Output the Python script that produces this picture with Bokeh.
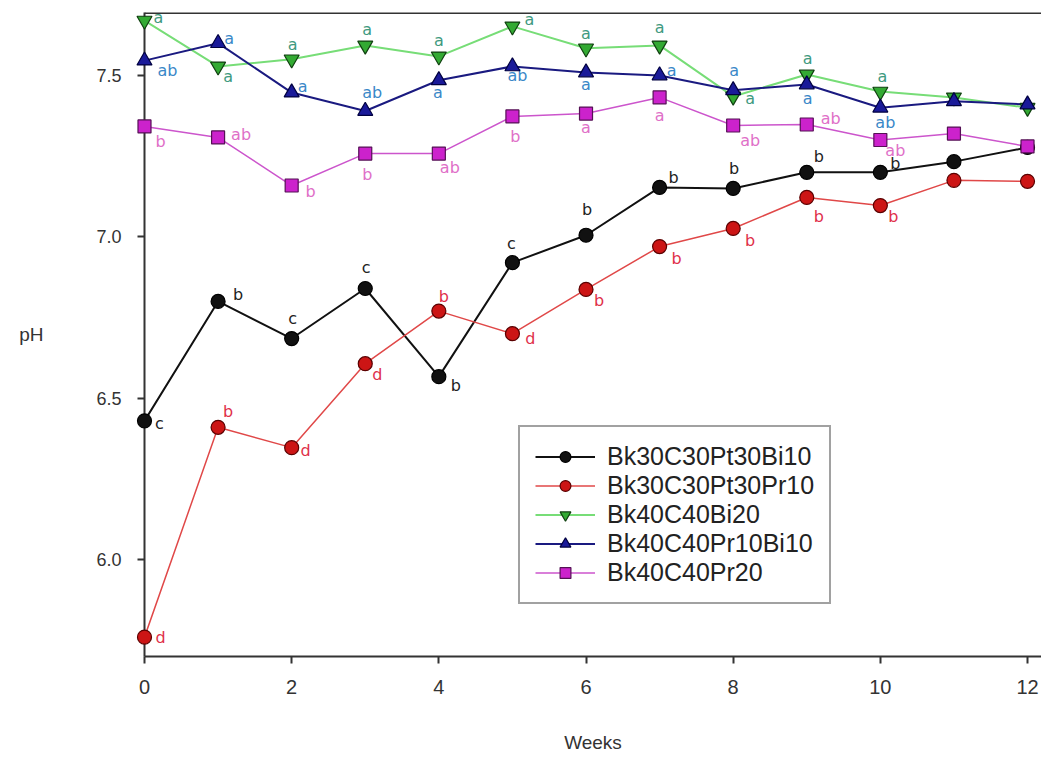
from bokeh.plotting import figure
from bokeh.models import ColumnDataSource, FixedTicker, Span, PrintfTickFormatter
from bokeh.core.properties import value
from bokeh.embed import file_html
from bokeh.resources import INLINE

# ---------------- data ----------------
weeks = list(range(13))
series_names = ["Bk30C30Pt30Bi10", "Bk30C30Pt30Pr10", "Bk40C40Bi20",
                "Bk40C40Pr10Bi10", "Bk40C40Pr20"]

ph_bk30_bi10 = [6.43, 6.80, 6.685, 6.84, 6.567, 6.92, 7.005, 7.153, 7.15, 7.20, 7.20, 7.233, 7.277]
ph_bk30_pr10 = [5.76, 6.41, 6.347, 6.607, 6.77, 6.70, 6.837, 6.97, 7.026, 7.122, 7.097, 7.175, 7.172]
ph_bk40_bi20 = [7.67, 7.528, 7.55, 7.593, 7.559, 7.652, 7.584, 7.593, 7.435, 7.503, 7.45, 7.432, 7.40]
ph_bk40_pr10bi10 = [7.546, 7.60, 7.447, 7.39, 7.485, 7.528, 7.509, 7.50, 7.454, 7.472, 7.40, 7.42, 7.41]
ph_bk40_pr20 = [7.342, 7.308, 7.159, 7.258, 7.258, 7.373, 7.382, 7.432, 7.345, 7.348, 7.30, 7.32, 7.28]

let_bk30_bi10 = ["c", "b", "c", "c", "b", "c", "b", "b", "b", "b", "b", "", ""]
let_bk30_pr10 = ["d", "b", "d", "d", "b", "d", "b", "b", "b", "b", "b", "", ""]
let_bk40_bi20 = ["a", "a", "a", "a", "a", "a", "a", "a", "a", "a", "a", "", ""]
let_bk40_pr10bi10 = ["ab", "a", "a", "ab", "a", "ab", "a", "a", "a", "a", "ab", "", ""]
let_bk40_pr20 = ["b", "ab", "b", "b", "ab", "b", "a", "a", "ab", "ab", "ab", "", ""]

x_ticks = [0, 2, 4, 6, 8, 10, 12]
y_ticks = [6.0, 6.5, 7.0, 7.5]

# ---------------- label placement (screen px, relative to marker) ----------------
off_bk30_bi10 = [(15, 3), (20, -7), (1, -20), (1, -21), (17, 9), (-1, -19), (1, -26),
                 (14, -10), (1, -20), (12, -16), (15, -9), (0, 0), (0, 0)]
off_bk30_pr10 = [(16, 0), (10, -16), (14, 3), (12, 11), (5, -15), (18, 5), (13, 11),
                 (17, 12), (17, 12), (12, 19), (13, 11), (0, 0), (0, 0)]
off_bk40_bi20 = [(14, -3), (10, 10), (1, -15), (2, -16), (0, -16), (17, -7), (0, -15),
                 (0, -18), (17, 2), (1, -16), (2, -15), (0, 0), (0, 0)]
off_bk40_pr10bi10 = [(23, 10), (11, -5), (11, -6), (7, -18), (-1, 12), (5, 9), (0, 12),
                     (12, -5), (1, -20), (1, 14), (5, 15), (0, 0), (0, 0)]
off_bk40_pr20 = [(16, 15), (23, -3), (19, 6), (2, 21), (11, 14), (3, 20), (0, 14),
                 (0, 18), (17, 15), (24, -6), (15, 10), (0, 0), (0, 0)]

styles = [
    dict(line="#111111", lw=2, marker="circle", fill="#111111", edge="#000000", size=14, txt="#222222"),
    dict(line="#e04848", lw=1.5, marker="circle", fill="#cc1515", edge="#5a0000", size=14, txt="#e0304a"),
    dict(line="#77dd77", lw=2, marker="inverted_triangle", fill="#33aa33", edge="#104010", size=15, txt="#3f9a80"),
    dict(line="#1a1a80", lw=2, marker="triangle", fill="#1a1a99", edge="#000040", size=15, txt="#3a88c8"),
    dict(line="#cc55cc", lw=1.5, marker="square", fill="#cc22cc", edge="#551155", size=13, txt="#e070c8"),
]

values = [ph_bk30_bi10, ph_bk30_pr10, ph_bk40_bi20, ph_bk40_pr10bi10, ph_bk40_pr20]
letters = [let_bk30_bi10, let_bk30_pr10, let_bk40_bi20, let_bk40_pr10bi10, let_bk40_pr20]
offsets = [off_bk30_bi10, off_bk30_pr10, off_bk40_bi20, off_bk40_pr10bi10, off_bk40_pr20]

# ---------------- figure ----------------
Y0, Y1 = 5.70, 7.695
p = figure(width=1041, height=759, x_range=(0, 12.19), y_range=(Y0, Y1),
           output_backend="svg", toolbar_location=None,
           min_border_left=144, min_border_top=12, min_border_right=0, min_border_bottom=103)
p.grid.visible = False
p.outline_line_color = None
p.background_fill_color = "white"
p.border_fill_color = "white"

tick_font = "Liberation Sans"
for ax in (p.xaxis[0], p.yaxis[0]):
    ax.axis_line_width = 2
    ax.axis_line_color = "#333333"
    ax.major_tick_line_color = "#333333"
    ax.major_tick_line_width = 2
    ax.major_tick_in = 0
    ax.major_tick_out = 7
    ax.minor_tick_line_color = None
    ax.major_label_text_font = tick_font
    ax.major_label_text_color = "#333333"
    ax.axis_label_text_font = tick_font
    ax.axis_label_text_font_size = "19px"
    ax.axis_label_text_font_style = "normal"
    ax.axis_label_text_color = "#333333"

p.xaxis.major_label_text_font_size = "20px"
p.yaxis.major_label_text_font_size = "18px"
p.xaxis.ticker = FixedTicker(ticks=x_ticks)
p.yaxis.ticker = FixedTicker(ticks=y_ticks)
p.yaxis.formatter = PrintfTickFormatter(format="%.1f")
p.xaxis.major_label_standoff = 16
p.yaxis.major_label_standoff = 16
p.xaxis.axis_label = "Weeks"
p.xaxis.axis_label_standoff = 35
p.yaxis.axis_label = "pH"
p.yaxis.axis_label_orientation = "horizontal"
p.yaxis.axis_label_standoff = 50

p.add_layout(Span(location=Y1, dimension="width", line_color="#333333", line_width=3))

for name, vals, labs, offs, st in zip(series_names, values, letters, offsets, styles):
    src = ColumnDataSource(dict(x=weeks, y=vals))
    p.line("x", "y", source=src, line_color=st["line"], line_width=st["lw"], legend_label=name)
    r = p.scatter("x", "y", source=src, marker=st["marker"], size=st["size"],
                  fill_color=st["fill"], line_color=st["edge"], line_width=1.2, legend_label=name)
    r.level = "overlay"
    keep = [i for i, t in enumerate(labs) if t]
    tsrc = ColumnDataSource(dict(
        x=[weeks[i] for i in keep], y=[vals[i] for i in keep], t=[labs[i] for i in keep],
        dx=[offs[i][0] for i in keep], dy=[offs[i][1] for i in keep]))
    p.text("x", "y", text="t", source=tsrc, x_offset="dx", y_offset="dy",
           text_align="center", text_baseline="middle", text_font=value("DejaVu Sans"),
           text_font_size="16px", text_color=st["txt"])

lg = p.legend[0]
lg.location = (374, 52)
lg.border_line_color = "#444444"
lg.border_line_width = 2
lg.background_fill_color = "white"
lg.background_fill_alpha = 1
lg.label_text_font = tick_font
lg.label_text_font_size = "25px"
lg.label_text_color = "#222222"
lg.glyph_width = 60
lg.glyph_height = 27
lg.label_height = 20
lg.label_standoff = 12
lg.spacing = 0
lg.padding = 15
lg.margin = 0

open("out.html", "w").write(file_html(p, INLINE))
